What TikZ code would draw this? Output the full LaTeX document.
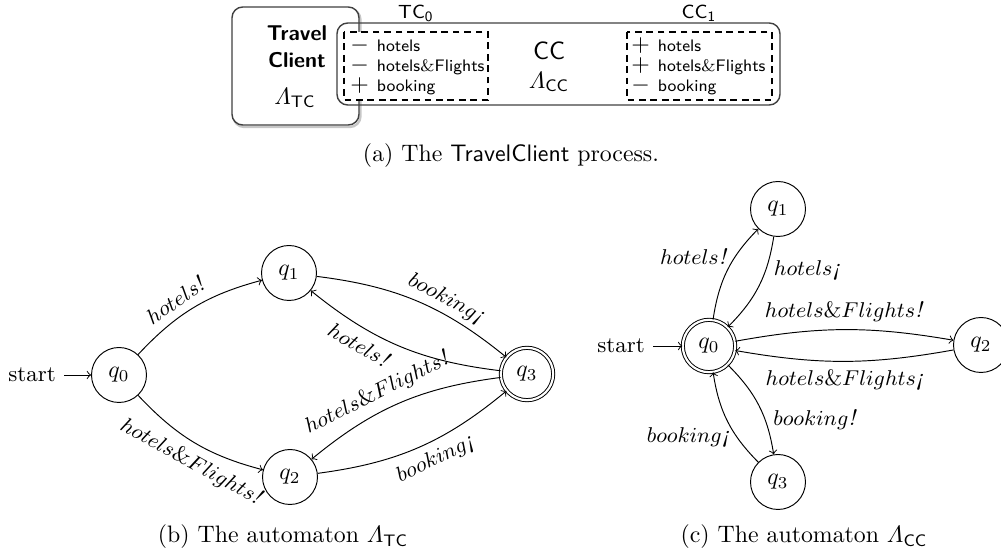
\documentclass[tikz,border=0pt]{standalone}
\usepackage{fontspec}
\usepackage{amsmath}
\usetikzlibrary{arrows}
\newcommand{\bang}{\textit{!}}
\newcommand{\ibang}{\textit{¡}}
% sign in front of a port entry, set at full size
\newcommand{\portsign}[1]{{\fontsize{10}{8.4}\selectfont$#1$}\hspace{3.3pt}}
\begin{document}
\begin{tikzpicture}[x=0.42pt,y=-0.42pt,
  st/.style={circle,draw,line width=0.4pt,minimum size=23.1pt,inner sep=0pt,font=\fontsize{10}{12}\selectfont},
  acc/.style={st,double,double distance=0.9pt,minimum size=22pt},
  tr/.style={->,>=to,line width=0.4pt},
  lab/.style={font=\fontsize{9.4}{11}\selectfont},
  procbox/.style={draw=black!75,line width=0.6pt,rounded corners=4.5pt},
  shadowline/.style={draw=black!22,line width=1pt,rounded corners=4.5pt},
  portbox/.style={draw=black,fill=white,line width=0.85pt,dash pattern=on 2.8pt off 2pt},
  lst/.style={anchor=west,inner sep=0pt,align=left,font=\sffamily\fontsize{7}{8.4}\selectfont},
  captext/.style={font=\fontsize{10}{12}\selectfont}
]
\useasboundingbox (0,0) rectangle (1001,551);

% ---------- (a) the TravelClient process ----------
\draw[shadowline] (233.5,9) rectangle (360.5,127);
\draw[procbox,fill=white] (232,7) rectangle (359,125);
\draw[procbox] (337,23) rectangle (780,105);
\draw[portbox] (344,32) rectangle (488,100);
\draw[portbox] (627,32) rectangle (772,100);

\node[align=center,font=\sffamily\bfseries\fontsize{9}{11.3}\selectfont] (tcname) at (297,46.5) {Travel\\Client};
\node (tcaut) at (295,98) {$\varLambda_{\mathsf{TC}}$};
\node[font=\sffamily\fontsize{10.5}{12}\selectfont] (ccname) at (549,51) {CC};
\node (ccaut) at (549,82) {$\varLambda_{\mathsf{CC}}$};
\node[font=\sffamily\fontsize{8}{10}\selectfont] (tc0) at (416,13) {TC$_{\mathsf{0}}$};
\node[font=\sffamily\fontsize{8}{10}\selectfont] (cc1) at (699,13) {CC$_{\mathsf{1}}$};

\node[lst] (tcports) at (350,66) {\portsign{-}hotels\\\portsign{-}hotels{\rmfamily\&}Flights\\\portsign{+}booking};
\node[lst] (ccports) at (631,66) {\portsign{+}hotels\\\portsign{+}hotels{\rmfamily\&}Flights\\\portsign{-}booking};

\node[captext] (capa) at (511,156) {(a)\ The \textsf{TravelClient} process.};

% ---------- (b) automaton of TravelClient ----------
\node[st]  (b0) at (119,375) {$q_0$};
\node[st]  (b1) at (289,273) {$q_1$};
\node[st]  (b2) at (290,477) {$q_2$};
\node[acc] (b3) at (527,374) {$q_3$};
\node[lab] (bs) at (32,375) {start};
\draw[tr] (bs) -- (b0);
\draw[tr] (b0) to[bend left=16]  node[lab,sloped,above,pos=0.42] {$hotels$\bang} (b1);
\draw[tr] (b0) to[bend right=16] node[lab,sloped,below,pos=0.55] {$hotels\&Flights$\bang} (b2);
\draw[tr] (b1) to[bend left=16]  node[lab,sloped,above,pos=0.62,inner sep=1.5pt] {$booking$\ibang} (b3);
\draw[tr] (b3) to[bend left=16]  node[lab,sloped,below,pos=0.68] {$hotels$\bang} (b1);
\draw[tr] (b3) to[bend right=16] node[lab,sloped,above,pos=0.58] {$hotels\&Flights$\bang} (b2);
\draw[tr] (b2) to[bend right=16] node[lab,sloped,below,pos=0.55] {$booking$\ibang} (b3);
\node[captext] (capb) at (283,537) {(b)\ The automaton $\varLambda_{\mathsf{TC}}$};

% ---------- (c) automaton of CC ----------
\node[acc] (c0) at (709,346) {$q_0$};
\node[st]  (c1) at (778,209) {$q_1$};
\node[st]  (c2) at (981,345) {$q_2$};
\node[st]  (c3) at (778,482) {$q_3$};
\node[lab] (cs) at (621,346) {start};
\draw[tr] (cs) -- (c0);
\draw[tr] (c0) to[bend left=18] node[lab,left,pos=0.67]  {$hotels$\bang} (c1);
\draw[tr] (c1) to[bend left=18] node[lab,right,pos=0.33] {$hotels$\ibang} (c0);
\draw[tr] (c0) to[bend left=10] node[lab,above] {$hotels\&Flights$\bang} (c2);
\draw[tr] (c2) to[bend left=10] node[lab,below] {$hotels\&Flights$\ibang} (c0);
\draw[tr] (c0) to[bend left=18] node[lab,right,pos=0.66] {$booking$\bang} (c3);
\draw[tr] (c3) to[bend left=18] node[lab,left,pos=0.3]  {$booking$\ibang} (c0);
\node[captext] (capc) at (804,537) {(c)\ The automaton $\varLambda_{\mathsf{CC}}$};
\end{tikzpicture}
\end{document}
